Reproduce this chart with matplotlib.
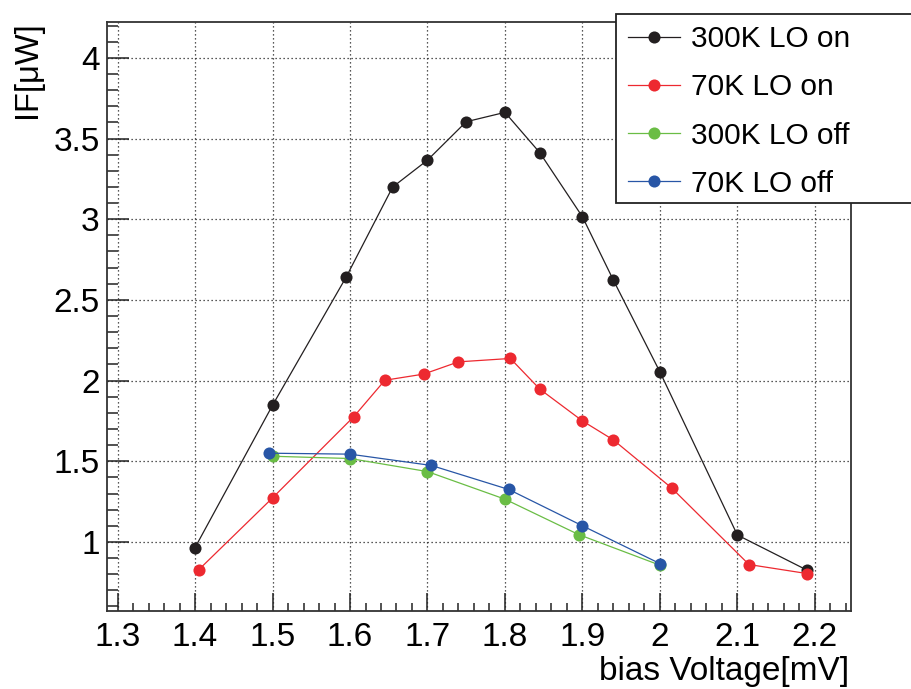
import matplotlib
matplotlib.use('Agg')
import matplotlib.pyplot as plt
from matplotlib.patches import Rectangle
from matplotlib.ticker import MultipleLocator

plt.rcParams['font.family'] = ['Liberation Sans', 'DejaVu Sans']

# Data
v_300_on = [1.40, 1.50, 1.595, 1.655, 1.70, 1.75, 1.80, 1.845, 1.90, 1.94, 2.00, 2.10, 2.19]
if_300_on = [0.965, 1.847, 2.641, 3.199, 3.366, 3.604, 3.662, 3.412, 3.015, 2.622, 2.054, 1.043, 0.825]

v_70_on = [1.405, 1.50, 1.605, 1.645, 1.695, 1.74, 1.807, 1.845, 1.90, 1.94, 2.015, 2.115, 2.19]
if_70_on = [0.829, 1.273, 1.777, 2.002, 2.040, 2.116, 2.137, 1.947, 1.750, 1.632, 1.335, 0.860, 0.804]

v_300_off = [1.50, 1.60, 1.70, 1.80, 1.895, 2.00]
if_300_off = [1.531, 1.517, 1.436, 1.265, 1.046, 0.856]

v_70_off = [1.495, 1.60, 1.705, 1.805, 1.90, 2.00]
if_70_off = [1.550, 1.544, 1.474, 1.325, 1.100, 0.866]

labels = ['300K LO on', '70K LO on', '300K LO off', '70K LO off']
colors = ['#231f20', '#ed2930', '#6abd45', '#2856a6']

fig = plt.figure(figsize=(9.11, 6.89), dpi=100)
ax = fig.add_axes([0.1171, 0.1132, 0.8167, 0.8544])

series = [(v_300_on, if_300_on), (v_70_on, if_70_on),
          (v_300_off, if_300_off), (v_70_off, if_70_off)]
for (x, y), c, lab in zip(series, colors, labels):
    ax.plot(x, y, '-o', color=c, lw=0.9, markersize=8.7, label=lab,
            markeredgewidth=0, zorder=3)

ax.set_xlim(1.2859, 2.2463)
ax.set_ylim(0.572, 4.22)

ax.xaxis.set_major_locator(MultipleLocator(0.1))
ax.xaxis.set_minor_locator(MultipleLocator(0.02))
ax.yaxis.set_major_locator(MultipleLocator(0.5))
ax.yaxis.set_minor_locator(MultipleLocator(0.1))
fmt = plt.FuncFormatter(lambda v, p: ('%.1f' % v).rstrip('0').rstrip('.'))
ax.xaxis.set_major_formatter(fmt)
ax.yaxis.set_major_formatter(fmt)

ax.tick_params(which='both', direction='in', top=False, right=False,
               labelsize=24, width=1.1, color='#222222')
ax.tick_params(axis='x', which='major', length=13, pad=8)
ax.tick_params(axis='x', which='minor', length=6)
ax.tick_params(axis='y', which='major', length=15.5, pad=5)
ax.tick_params(axis='y', which='minor', length=7.7)

ax.grid(True, which='major', color='#222222', linestyle=(0, (1, 2.2)), lw=0.9)
for s in ax.spines.values():
    s.set_linewidth(1.3)
    s.set_color('#333333')

fig.text(849 / 911, 9 / 689, 'bias Voltage[mV]', ha='right', va='baseline',
         fontsize=24)
fig.text(12 / 911, 1 - 21 / 689, 'IF[μW]', rotation=90, ha='left', va='top',
         fontsize=23.5)

# legend box (runs off the right edge, as in the original)
fig.patches.append(Rectangle((616 / 911, 1 - 203 / 689), 0.4, 189 / 689,
                             transform=fig.transFigure, facecolor='white',
                             edgecolor='#222222', lw=1.3, zorder=5))
leg = fig.legend(loc='upper left', bbox_to_anchor=(628 / 911, 1 - 25 / 689),
                 frameon=False, fontsize=21.5, handlelength=1.74,
                 handletextpad=0.36, labelspacing=0.68, borderaxespad=0,
                 borderpad=0)
leg.set_zorder(6)

fig.savefig('out.png', dpi=100)
